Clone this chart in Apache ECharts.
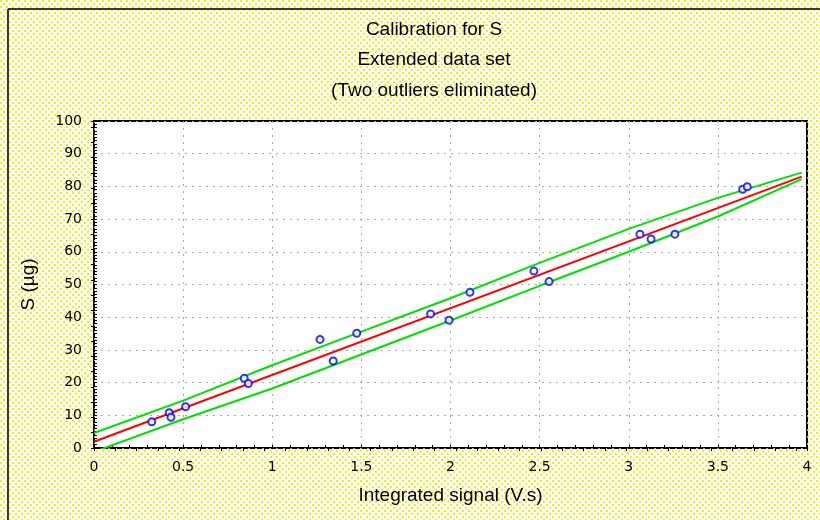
<!DOCTYPE html>
<html>
<head>
<meta charset="utf-8">
<script src="https://cdn.jsdelivr.net/npm/echarts@6/dist/echarts.min.js"></script>
<style>
  html, body { margin: 0; padding: 0; background: #fff; }
  #chart { width: 820px; height: 520px; }
</style>
</head>
<body>
<div id="chart"></div>
<script>
// Titles and axis names
const titleLines = ['Calibration for S', 'Extended data set', '(Two outliers eliminated)'];
const xName = 'Integrated signal (V.s)';
const yName = 'S (µg)';

// Measured calibration points
const signal = [0.324, 0.422, 0.432, 0.514, 0.843, 0.866, 1.268, 1.342, 1.474, 1.888,
                1.992, 2.109, 2.468, 2.553, 3.063, 3.125, 3.259, 3.639, 3.665];
const amount = [8.0, 10.8, 9.4, 12.6, 21.3, 19.7, 33.2, 26.6, 35.1, 41.0,
                39.1, 47.6, 54.1, 50.9, 65.4, 63.9, 65.4, 79.1, 79.9];

// Fitted calibration line
const fitX = [0, 3.97];
const fitY = [1.9, 83.0];

// Confidence band
const bandX = [0, 0.5, 1, 1.5, 2, 2.5, 3, 3.5, 3.97];
const upperBand = [4.6, 14.5, 25.3, 35.6, 45.8, 56.6, 67.0, 76.5, 84.2];
const lowerBand = [-1.2, 8.8, 18.2, 28.6, 39.0, 49.6, 60.0, 70.8, 82.2];

const pairs = (xs, ys) => xs.map((x, i) => [x, ys[i]]);

// Yellow dotted paper texture
const tex = document.createElement('canvas');
tex.width = 6; tex.height = 6;
const tctx = tex.getContext('2d');
tctx.fillStyle = '#ffffff';
tctx.fillRect(0, 0, 6, 6);
tctx.fillStyle = '#f2f200';
tctx.fillRect(0, 0, 2, 2);
tctx.fillRect(3, 3, 2, 2);

const textFont = 'Liberation Sans, Arial, sans-serif';
const tickFont = 'DejaVu Sans, sans-serif';

const chart = echarts.init(document.getElementById('chart'), null, { renderer: 'canvas' });

const tickStyle = { color: '#000', width: 1 };

chart.setOption({
  animation: false,
  backgroundColor: { image: tex, repeat: 'repeat' },
  graphic: [
    { type: 'line', shape: { x1: 8, y1: 9, x2: 8, y2: 520 }, style: { stroke: '#383838', lineWidth: 2 } },
    { type: 'line', shape: { x1: 8, y1: 9, x2: 820, y2: 9 }, style: { stroke: '#383838', lineWidth: 2 } },
    ...titleLines.map((t, i) => ({
      type: 'text', x: 434, y: [30, 60, 91][i],
      style: { text: t, fill: '#000', font: '19px ' + textFont, textAlign: 'center', textVerticalAlign: 'middle' }
    }))
  ],
  grid: {
    left: 94, right: 13, top: 121, bottom: 72,
    show: true, backgroundColor: '#ffffff', borderColor: '#000', borderWidth: 2
  },
  xAxis: [
    {
      type: 'value', position: 'bottom', min: 0, max: 4, interval: 0.5,
      axisLine: { show: false },
      axisTick: { inside: true, length: 3, lineStyle: tickStyle },
      minorTick: { show: true, splitNumber: 5, length: 3, lineStyle: tickStyle },
      splitLine: { show: true, lineStyle: { color: '#a8a8a8', width: 1, type: [2, 5] } },
      axisLabel: { color: '#000', fontFamily: tickFont, fontSize: 14, margin: 12 },
      name: xName, nameLocation: 'middle', nameGap: 38,
      nameTextStyle: { color: '#000', fontFamily: textFont, fontSize: 19 }
    },
    {
      type: 'value', position: 'top', min: 0, max: 33.5, interval: 1,
      axisLine: { show: false },
      axisTick: { inside: true, length: 3, lineStyle: tickStyle },
      axisLabel: { show: false },
      splitLine: { show: false }
    }
  ],
  yAxis: [
    {
      type: 'value', position: 'left', min: 0, max: 100, interval: 10,
      axisLine: { show: false },
      axisTick: { inside: true, length: 3, lineStyle: tickStyle },
      minorTick: { show: true, splitNumber: 10, length: 3, lineStyle: tickStyle },
      splitLine: { show: true, lineStyle: { color: '#a8a8a8', width: 1, type: [2, 5] } },
      axisLabel: { color: '#000', fontFamily: tickFont, fontSize: 14, margin: 12 },
      name: yName, nameLocation: 'middle', nameGap: 56, nameRotate: 90,
      nameTextStyle: { color: '#000', fontFamily: textFont, fontSize: 19 }
    },
    {
      type: 'value', position: 'right', min: 0, max: 21.4, interval: 1,
      axisLine: { show: false },
      axisTick: { inside: true, length: 3, lineStyle: tickStyle },
      axisLabel: { show: false },
      splitLine: { show: false }
    }
  ],
  series: [
    {
      type: 'line', data: pairs(bandX, upperBand), showSymbol: false, symbol: 'none',
      lineStyle: { color: '#00e000', width: 2 }, z: 2
    },
    {
      type: 'line', data: pairs(bandX, lowerBand), showSymbol: false, symbol: 'none',
      lineStyle: { color: '#00e000', width: 2 }, z: 2
    },
    {
      type: 'line', data: pairs(fitX, fitY), showSymbol: false, symbol: 'none',
      lineStyle: { color: '#ff0000', width: 2 }, z: 3
    },
    {
      type: 'scatter', data: pairs(signal, amount), symbol: 'emptyCircle', symbolSize: 7,
      itemStyle: { color: '#0000ff', borderColor: '#0000ff', borderWidth: 2 }, z: 4
    }
  ]
});
</script>
</body>
</html>
